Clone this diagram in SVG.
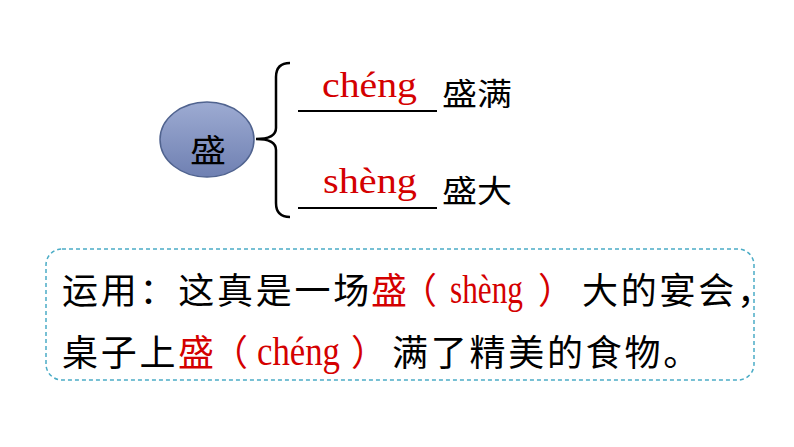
<svg xmlns="http://www.w3.org/2000/svg" width="794" height="447" viewBox="0 0 794 447">
<style>
.cn{font-family:"Noto Sans CJK SC","Liberation Serif",sans-serif;fill:#000}
.py{font-family:"Liberation Serif","Noto Sans CJK SC",serif;fill:#d40000}
.red{fill:#d40000}
.blank{stroke:#000;stroke-width:2}
.big{font-size:36px;letter-spacing:2.75px}
</style>
<defs>
<linearGradient id="eg" x1="0" y1="0" x2="0" y2="1">
<stop offset="0" stop-color="#9dabd2"/>
<stop offset="1" stop-color="#6f80b2"/>
</linearGradient>
</defs>
<rect width="794" height="447" fill="#fff"/>
<g id="root">
<ellipse cx="207" cy="139.5" rx="47" ry="37.5" fill="url(#eg)" stroke="#50638f" stroke-width="1.5"/>
<text class="cn" x="190" y="162" font-size="32" textLength="36" lengthAdjust="spacingAndGlyphs">盛</text>
</g>
<g id="connectors">
<path d="M290,63 Q276,63 276,77 L276,128 Q276,139 256,139 Q276,139 276,150 L276,203 Q276,217 290,217" fill="none" stroke="#000" stroke-width="2.5"/>
</g>
<g id="item1">
<line class="blank" x1="298" y1="111" x2="437" y2="111"/>
<text class="py" x="322" y="97" font-size="36" textLength="95" lengthAdjust="spacingAndGlyphs">chéng</text>
<text class="cn" x="442" y="105" font-size="31" textLength="70" lengthAdjust="spacingAndGlyphs">盛满</text>
</g>
<g id="item2">
<line class="blank" x1="298" y1="208" x2="437" y2="208"/>
<text class="py" x="323" y="193" font-size="36" textLength="94" lengthAdjust="spacingAndGlyphs">shèng</text>
<text class="cn" x="442" y="202" font-size="31" textLength="70" lengthAdjust="spacingAndGlyphs">盛大</text>
</g>
<g id="usage">
<rect x="46" y="249" width="708" height="131" rx="16" fill="none" stroke="#4bacc6" stroke-width="1.5" stroke-dasharray="4 3"/>
<text class="cn big" x="62" y="304">运用：这真是一场</text>
<text class="cn red" x="371" y="304" font-size="36" letter-spacing="-6">盛（</text>
<text class="py" x="450" y="303" font-size="39" textLength="73" lengthAdjust="spacingAndGlyphs">shèng</text>
<text class="cn big red" x="538" y="304">）</text>
<text class="cn big" x="582" y="304">大的宴会，</text>
<text class="cn big" x="62" y="366">桌子上</text>
<text class="cn red" x="178" y="366" font-size="36" letter-spacing="-2">盛（</text>
<text class="py" x="257" y="365" font-size="39" textLength="83" lengthAdjust="spacingAndGlyphs">chéng</text>
<text class="cn big red" x="351" y="366">）</text>
<text class="cn big" x="392" y="366">满了精美的食物。</text>
</g>
</svg>
